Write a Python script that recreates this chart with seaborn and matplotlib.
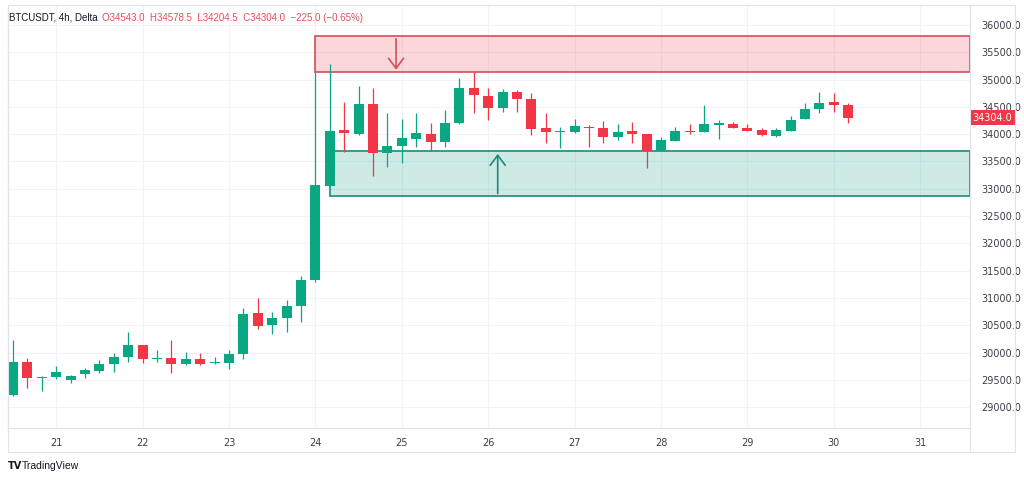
import matplotlib
matplotlib.use("Agg")
import matplotlib.pyplot as plt
import matplotlib.patches as mpatches
import numpy as np
import pandas as pd
import seaborn as sns

# 4h BTCUSDT candles
opens = [29222, 29821, 29540, 29546, 29496, 29601, 29667, 29790, 29912, 30138,
         29881, 29894, 29790, 29881, 29805, 29813, 29973, 30729, 30504, 30627,
         30858, 31328, 33056, 34076, 34009, 34547, 33661, 33789, 33912, 34003,
         33851, 34199, 34840, 34705, 34474, 34778, 34639, 34108, 34040, 34045,
         34137, 34108, 33943, 34058, 34003, 33692, 33880, 34064, 34045, 34168,
         34186, 34119, 34076, 33975, 34064, 34272, 34456, 34589, 34543]
highs = [30229, 29906, 29575, 29758, 29590, 29711, 29863, 29986, 30381, 30140,
         30046, 30229, 30014, 30000, 29912, 30046, 30821, 31004, 30748, 30962,
         31402, 35140, 35280, 34595, 34888, 34840, 34382, 34272, 34393, 34210,
         34443, 35035, 35133, 34840, 34822, 34809, 34749, 34382, 34137, 34272,
         34168, 34247, 34186, 34228, 34010, 33943, 34137, 34186, 34534, 34260,
         34228, 34186, 34108, 34119, 34333, 34566, 34778, 34749, 34578.5]
lows = [29200, 29356, 29295, 29509, 29447, 29528, 29619, 29649, 29832, 29813,
        29832, 29619, 29771, 29771, 29784, 29692, 29876, 30425, 30339, 30370,
        30564, 31300, 33050, 33679, 33985, 33239, 33393, 33477, 33759, 33697,
        33770, 34190, 34382, 34260, 34412, 34412, 33985, 33833, 33741, 34016,
        33770, 33833, 33893, 33833, 33375, 33690, 33880, 34003, 34034, 33906,
        34108, 34058, 33966, 33943, 34060, 34270, 34382, 34412, 34204.5]
closes = [29821, 29528, 29550, 29649, 29575, 29680, 29784, 29912, 30138, 29881,
          29894, 29784, 29881, 29790, 29820, 29973, 30706, 30491, 30627, 30858,
          31328, 33070, 34058, 34016, 34547, 33661, 33789, 33924, 34015, 33851,
          34199, 34840, 34718, 34474, 34778, 34639, 34095, 34045, 34050, 34150,
          34108, 33943, 34045, 34003, 33692, 33893, 34064, 34034, 34181, 34199,
          34119, 34064, 33979, 34076, 34260, 34456, 34577, 34543, 34304]

supply_zone = (35130, 35800)   # red box
demand_zone = (32860, 33690)   # green box
price_ticks = list(range(29000, 36001, 500))

df = pd.DataFrame({"open": opens, "high": highs, "low": lows, "close": closes})
df["time"] = pd.date_range("2023-10-20 12:00", periods=len(df), freq="4h")
df["x"] = np.arange(len(df))
df["up"] = df["close"] >= df["open"]

UP, DOWN = "#0aa882", "#f23645"
GRID = "#f0f3fa"

sns.set_theme(style="white")
plt.rcParams["font.family"] = ["DejaVu Sans"]

fig = plt.figure(figsize=(10.24, 4.8), dpi=100)
ax = fig.add_axes([8 / 1024, 1 - 428 / 480, 962 / 1024, 423 / 480])

# grid
day_x = df.loc[df["time"].dt.hour == 0, "x"].tolist()
day_lab = df.loc[df["time"].dt.hour == 0, "time"].dt.day.tolist()
# extend day ticks to the empty right part of the chart
while day_lab[-1] < 31:
    day_x.append(day_x[-1] + 6)
    day_lab.append(day_lab[-1] + 1)
for v in day_x:
    ax.axvline(v, color=GRID, lw=0.8, zorder=0)
for p in price_ticks:
    ax.axhline(p, color=GRID, lw=0.8, zorder=0)

x_right = 66.46

# zones
z_red = dict(fc=(242 / 255, 54 / 255, 69 / 255, 0.2), ec="#d0505b", lw=1.2)
z_grn = dict(fc=(8 / 255, 153 / 255, 129 / 255, 0.2), ec="#1e8a78", lw=1.2)
ax.add_patch(mpatches.Rectangle((21, supply_zone[0]), x_right - 21,
                                supply_zone[1] - supply_zone[0], zorder=1, **z_red))
ax.add_patch(mpatches.Rectangle((22, demand_zone[0]), x_right - 22,
                                demand_zone[1] - demand_zone[0], zorder=1, **z_grn))
ax.annotate("", xy=(26.6, supply_zone[0]), xytext=(26.6, supply_zone[1]),
            arrowprops=dict(arrowstyle="->,head_length=0.6,head_width=0.45",
                            color="#d0505b", lw=1.2), zorder=2)
ax.annotate("", xy=(33.66, demand_zone[1]), xytext=(33.66, demand_zone[0]),
            arrowprops=dict(arrowstyle="->,head_length=0.6,head_width=0.45",
                            color="#1e8a78", lw=1.2), zorder=2)

# candles
colors = np.where(df["up"], UP, DOWN)
ax.vlines(df["x"], df["low"], df["high"], colors=colors, lw=0.9, zorder=3)
body_lo = df[["open", "close"]].min(axis=1)
body_h = (df["close"] - df["open"]).abs().clip(lower=15)
ax.bar(df["x"], body_h, bottom=body_lo, width=0.7, color=colors, lw=0, zorder=4)

ax.set_xlim(-0.35, x_right)
ax.set_ylim(28617, 36366)

ax.yaxis.tick_right()
ax.set_yticks(price_ticks)
ax.set_yticklabels([f"{p:.1f}" for p in price_ticks])
ax.set_xticks(day_x)
ax.set_xticklabels([str(d) for d in day_lab])
ax.tick_params(axis="both", length=0, labelsize=7, colors="#3b3e47")
ax.tick_params(axis="y", pad=8)
ax.tick_params(axis="x", pad=7)
for s in ax.spines.values():
    s.set_color("#e0e3eb")
    s.set_linewidth(0.8)

# last price label
last = closes[-1]
ax.text(1.0025, last, f"{last:.1f}", transform=ax.get_yaxis_transform(),
        ha="left", va="center", fontsize=7, color="white",
        bbox=dict(boxstyle="square,pad=0.25", fc=DOWN, ec="none"), clip_on=False)

# header
hdr = ["Liberation Sans", "DejaVu Sans"]
fig.text(9 / 1024, 1 - 18 / 480, "BTCUSDT, 4h, Delta", fontsize=7,
         color="#131722", va="center", family=hdr)
fig.text(102 / 1024, 1 - 18 / 480,
         "O34543.0  H34578.5  L34204.5  C34304.0  \u2212225.0 (\u22120.65%)",
         fontsize=7, color="#e0505c", va="center", family=hdr)

# bottom strip frame + logo
fig.add_artist(mpatches.Rectangle((8 / 1024, 1 - 452 / 480), 1007 / 1024, 447 / 480,
                                  transform=fig.transFigure, fill=False,
                                  ec="#e0e3eb", lw=0.8))
fig.add_artist(plt.Line2D([970 / 1024, 970 / 1024], [1 - 452 / 480, 1 - 5 / 480],
                          transform=fig.transFigure, color="#e0e3eb", lw=0.8))
fig.text(8 / 1024, 1 - 466 / 480, "TV", fontsize=7, fontweight="bold",
         color="#131722", va="center")
fig.text(22 / 1024, 1 - 466 / 480, "TradingView", fontsize=7.5,
         color="#131722", va="center", family=hdr)

fig.savefig("out.png", dpi=100, facecolor="white")
